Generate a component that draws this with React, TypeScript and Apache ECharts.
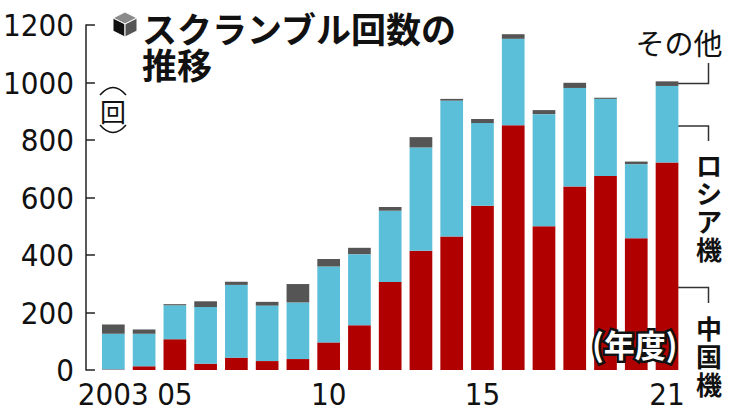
import React, { useEffect, useRef } from "react";
import * as echarts from "echarts";

const years = ["2003","2004","2005","2006","2007","2008","2009","2010","2011","2012","2013","2014","2015","2016","2017","2018","2019","2020","2021"];
const xTickLabels = ["2003","","05","","","","","10","","","","","15","","","","","","21"];
const china = [2, 13, 107, 22, 43, 31, 38, 96, 156, 306, 415, 464, 571, 851, 500, 638, 675, 458, 722];
const russia = [124, 113, 118, 197, 253, 193, 197, 264, 247, 248, 359, 473, 288, 301, 390, 343, 268, 258, 266];
const other = [32, 15, 4, 20, 11, 13, 64, 26, 22, 13, 36, 6, 14, 16, 14, 18, 4, 9, 16];
const yTicks = { min: 0, max: 1200, interval: 200 };

const NUM_FONT = "'Liberation Sans Narrow', 'DejaVu Sans Condensed', sans-serif";
const JP_FONT = "'Noto Sans CJK JP', 'Noto Sans', sans-serif";

function txt(x: number, y: number, text: string, size: number, weight: string, align = "left", extra: any = {}) {
  return {
    type: "text",
    x,
    y,
    style: {
      text,
      fontSize: size,
      fontWeight: weight,
      fontFamily: JP_FONT,
      fill: "#111",
      textAlign: align,
      textVerticalAlign: "middle",
      ...extra,
    },
  };
}

export default function App() {
  const ref = useRef<HTMLDivElement>(null);
  useEffect(() => {
    document.body.style.margin = "0";
    const chart = echarts.init(ref.current!, null, { renderer: "svg" });
    const leader = "#333333";
    const vertRussia = "ロシア機".split("").map((c, i) => txt(709, 164 + i * 28, c, 26, "bold", "center"));
    const vertChina = "中国機".split("").map((c, i) => txt(709, 327 + i * 28, c, 26, "bold", "center"));
    const fyStyle = { fontFamily: JP_FONT, fontSize: 31, fontWeight: "bold" as const, lineHeight: 32 };
    chart.setOption({
      animation: false,
      backgroundColor: "#ffffff",
      title: [
        {
          text: "(年度)",
          left: 592,
          top: 327,
          padding: 0,
          textStyle: { ...fyStyle, color: "#111", textBorderColor: "#111", textBorderWidth: 5 },
        },
        {
          text: "(年度)",
          left: 592,
          top: 327,
          padding: 0,
          textStyle: { ...fyStyle, color: "#ffffff" },
        },
      ],
      grid: { left: 96, right: 58.6, top: 25, bottom: 41 },
      xAxis: {
        type: "category",
        data: years,
        axisLine: { show: false },
        axisTick: { show: false },
        axisLabel: {
          interval: 0,
          formatter: (_v: string, i: number) => xTickLabels[i],
          fontFamily: NUM_FONT,
          fontSize: 31,
          color: "#111",
          margin: 8,
        },
      },
      yAxis: {
        type: "value",
        min: yTicks.min,
        max: yTicks.max,
        interval: yTicks.interval,
        offset: 12,
        axisLine: { show: true, lineStyle: { color: "#222", width: 1.5 } },
        axisTick: { show: true, inside: true, length: 9, lineStyle: { color: "#222", width: 1.5 } },
        splitLine: { show: false },
        axisLabel: {
          fontFamily: NUM_FONT,
          fontSize: 31,
          color: "#111",
          margin: 12,
          formatter: (v: number) => String(v),
        },
      },
      series: [
        { name: "中国機", type: "bar", stack: "t", data: china, barWidth: 22.7, itemStyle: { color: "#b00000" } },
        { name: "ロシア機", type: "bar", stack: "t", data: russia, barWidth: 22.7, itemStyle: { color: "#5cbfd9" } },
        { name: "その他", type: "bar", stack: "t", data: other, barWidth: 22.7, itemStyle: { color: "#555555" } },
      ],
      graphic: [
        // cube icon
        { type: "polygon", shape: { points: [[125, 12], [137, 18], [125, 24], [113, 18]] }, style: { fill: "#8a8a8a", stroke: "#fff", lineWidth: 1 } },
        { type: "polygon", shape: { points: [[113, 18], [125, 24], [125, 37], [113, 31]] }, style: { fill: "#111", stroke: "#fff", lineWidth: 1 } },
        { type: "polygon", shape: { points: [[125, 24], [137, 18], [137, 31], [125, 37]] }, style: { fill: "#555", stroke: "#fff", lineWidth: 1 } },
        // title (two lines)
        txt(142, 9, "スクランブル回数の\n推移", 35, "bold", "left", { lineHeight: 36, textVerticalAlign: "top" }),
        // unit (回) vertical
        { type: "bezierCurve", shape: { x1: 100, y1: 95, x2: 126, y2: 95, cpx1: 113, cpy1: 80 }, style: { stroke: "#111", lineWidth: 1.5, fill: null } },
        txt(113, 110, "回", 26, "normal", "center"),
        { type: "bezierCurve", shape: { x1: 100, y1: 125, x2: 126, y2: 125, cpx1: 113, cpy1: 140 }, style: { stroke: "#111", lineWidth: 1.5, fill: null } },
        // legend labels
        txt(679, 42, "その他", 29, "normal", "center"),
        { type: "polyline", shape: { points: [[678, 83.5], [708.5, 83.5], [708.5, 63]] }, style: { stroke: leader, lineWidth: 1.5, fill: null } },
        ...vertRussia,
        { type: "polyline", shape: { points: [[678, 126], [708.5, 126], [708.5, 141]] }, style: { stroke: leader, lineWidth: 1.5, fill: null } },
        { type: "line", shape: { x1: 666, y1: 126, x2: 678, y2: 126 }, style: { stroke: "#fff", lineWidth: 1.5 } },
        ...vertChina,
        { type: "polyline", shape: { points: [[678, 287.5], [708.5, 287.5], [708.5, 303]] }, style: { stroke: leader, lineWidth: 1.5, fill: null } },
        { type: "line", shape: { x1: 666, y1: 287.5, x2: 678, y2: 287.5 }, style: { stroke: "#fff", lineWidth: 1.5 } },
      ],
    });
    return () => chart.dispose();
  }, []);
  return <div ref={ref} style={{ position: "absolute", left: 0, top: 0, width: 741, height: 411 }} />;
}
